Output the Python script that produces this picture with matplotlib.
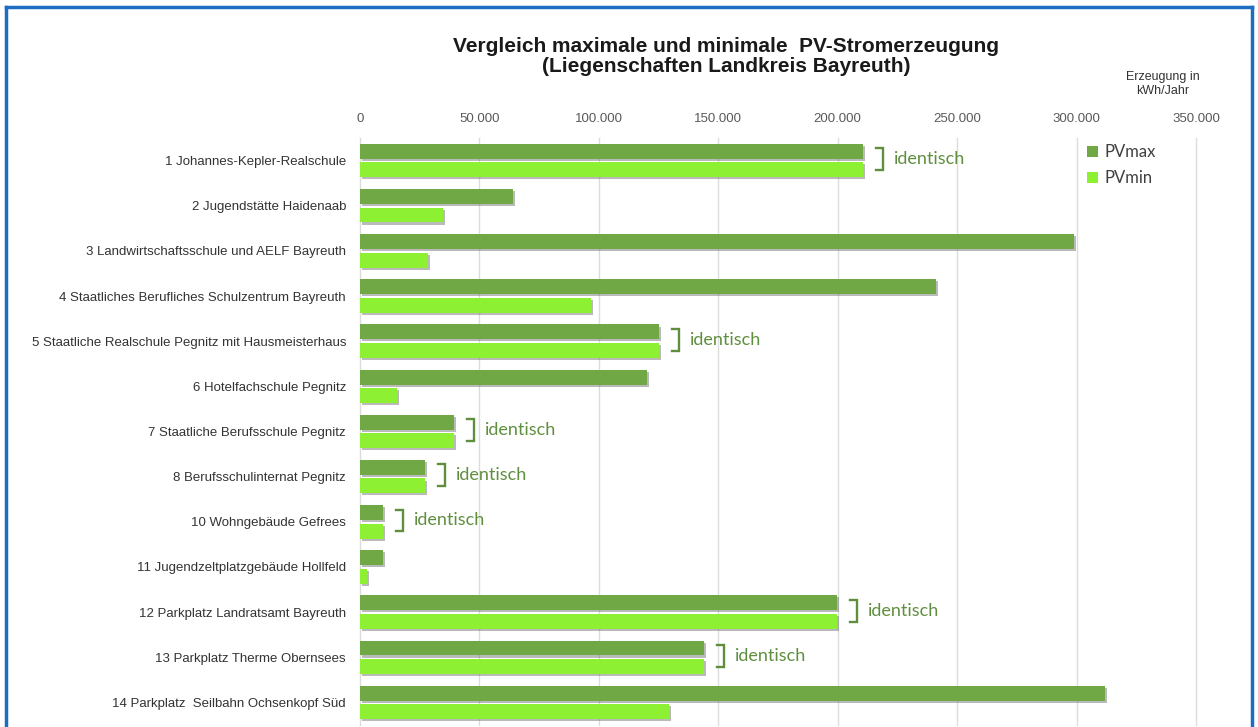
import matplotlib
matplotlib.use("Agg")
import matplotlib.pyplot as plt
import matplotlib.patheffects as pe
from matplotlib.lines import Line2D
from matplotlib.patches import Patch
import numpy as np

categories = [
    "1 Johannes-Kepler-Realschule",
    "2 Jugendstätte Haidenaab",
    "3 Landwirtschaftsschule und AELF Bayreuth",
    "4 Staatliches Berufliches Schulzentrum Bayreuth",
    "5 Staatliche Realschule Pegnitz mit Hausmeisterhaus",
    "6 Hotelfachschule Pegnitz",
    "7 Staatliche Berufsschule Pegnitz",
    "8 Berufsschulinternat Pegnitz",
    "10 Wohngebäude Gefrees",
    "11 Jugendzeltplatzgebäude Hollfeld",
    "12 Parkplatz Landratsamt Bayreuth",
    "13 Parkplatz Therme Obernsees",
    "14 Parkplatz  Seilbahn Ochsenkopf Süd",
]
pv_max = [210400, 64000, 298800, 241000, 125100, 120100, 39300, 27200, 9600, 9600, 199500, 143900, 311700]
pv_min = [210400, 34900, 28400, 96600, 125100, 15500, 39300, 27200, 9600, 2900, 199500, 143900, 129300]
identical = [True, False, False, False, True, False, True, True, True, False, True, True, False]
xticks = [0, 50000, 100000, 150000, 200000, 250000, 300000, 350000]
xtick_labels = ["0", "50.000", "100.000", "150.000", "200.000", "250.000", "300.000", "350.000"]

C_MAX = "#70a846"
C_MIN = "#8ef033"
C_BRACKET = "#5f8f3e"

W, H = 1258, 727
fig = plt.figure(figsize=(W / 100, H / 100), dpi=100)
fig.patch.set_facecolor("white")

left_px, right_px, top_px, bot_px = 360, 1196, 138, 725
ax = fig.add_axes([left_px / W, 1 - bot_px / H, (right_px - left_px) / W, (bot_px - top_px) / H])

y = np.arange(len(categories))
bh = 0.33
off = 0.205
shadow = [pe.SimplePatchShadow(offset=(1.5, -1.5), shadow_rgbFace="#666666", alpha=0.45), pe.Normal()]
bars_max = ax.barh(y - off, pv_max, height=bh, color=C_MAX, zorder=3)
bars_min = ax.barh(y + off, pv_min, height=bh, color=C_MIN, zorder=3)
for b in list(bars_max) + list(bars_min):
    b.set_path_effects(shadow)

ax.set_xlim(0, 350000)
ax.set_ylim(len(categories) - 0.5, -0.5)
ax.set_xticks(xticks)
ax.set_xticklabels(xtick_labels, fontsize=9.5, color="#595959", family="Liberation Sans")
ax.xaxis.tick_top()
ax.tick_params(axis="x", length=0, pad=9)
ax.set_yticks(y)
ax.set_yticklabels(categories, fontsize=9.5, color="#333333", family="Liberation Sans")
ax.tick_params(axis="y", length=0, pad=10)
for s in ax.spines.values():
    s.set_visible(False)
ax.grid(axis="x", color="#dcdcdc", linewidth=1, zorder=0)
for gl in ax.get_xgridlines():
    gl.set_clip_on(False)
ax.set_axisbelow(True)

# brackets for identical values
px = 350000 / (right_px - left_px)
for i, (v, same) in enumerate(zip(pv_max, identical)):
    if not same:
        continue
    x0 = v + 13 * px
    x1 = v + 20 * px
    yt = i - 0.27
    yb = i + 0.21
    ax.add_line(Line2D([x0, x1, x1, x0], [yt, yt, yb, yb], color=C_BRACKET, lw=1.7,
                       solid_joinstyle="miter", zorder=4, clip_on=False))
    ax.text(v + 31 * px, i - 0.03, "identisch", color=C_BRACKET, fontsize=13,
            family="Lato", va="center", ha="left", zorder=4)

# legend
handles = [Patch(facecolor=C_MAX, edgecolor="none", label="PVmax"),
           Patch(facecolor=C_MIN, edgecolor="none", label="PVmin")]
leg = fig.legend(handles=handles, loc="upper left", bbox_to_anchor=(1072 / W, 1 - 129 / H),
                 frameon=False, prop={"family": "Lato", "size": 12}, handlelength=0.65,
                 handleheight=0.65, handletextpad=0.4, labelspacing=0.6, labelcolor="#404040")

# titles
fig.text(726 / W, 1 - 47 / H, "Vergleich maximale und minimale  PV-Stromerzeugung",
         ha="center", va="center", fontsize=15, fontweight="bold", family="Liberation Sans", color="#1a1a1a")
fig.text(726 / W, 1 - 67 / H, "(Liegenschaften Landkreis Bayreuth)",
         ha="center", va="center", fontsize=15, fontweight="bold", family="Liberation Sans", color="#1a1a1a")
fig.text(1163 / W, 1 - 84 / H, "Erzeugung in\nkWh/Jahr", ha="center", va="center",
         fontsize=9, family="Liberation Sans", color="#333333", linespacing=1.25)

# blue frame
bc = "#1b6ec2"
fig.add_artist(Line2D([6.5 / W, 6.5 / W], [0, 1 - 6.5 / H], color=bc, lw=2.5, transform=fig.transFigure))
fig.add_artist(Line2D([6.5 / W, 1251.5 / W], [1 - 6.5 / H, 1 - 6.5 / H], color=bc, lw=2.5, transform=fig.transFigure))
fig.add_artist(Line2D([1251.5 / W, 1251.5 / W], [0, 1 - 6.5 / H], color=bc, lw=2.5, transform=fig.transFigure))

fig.savefig("out.png", dpi=100, facecolor="white")
